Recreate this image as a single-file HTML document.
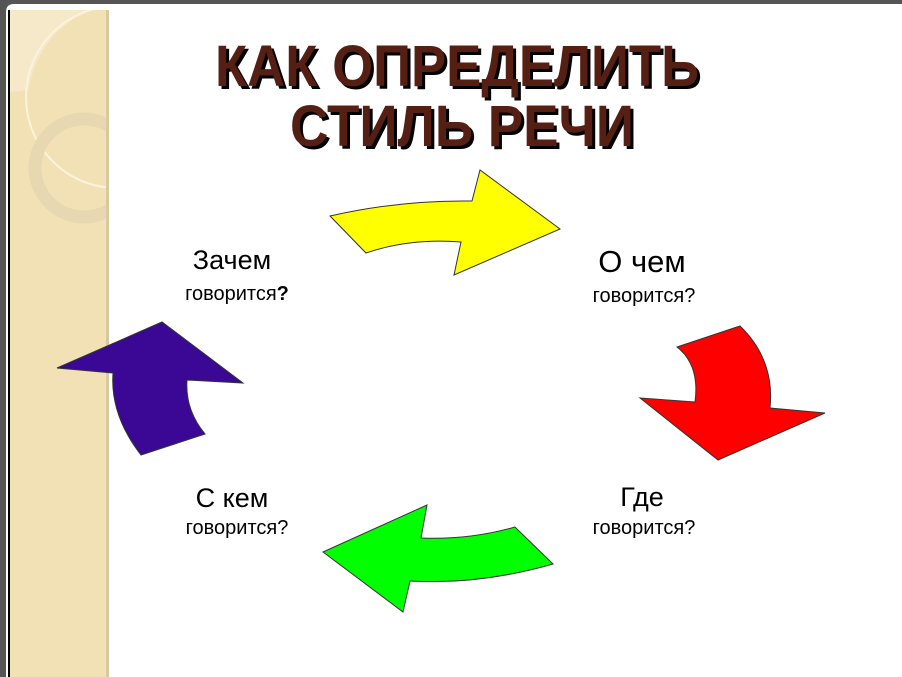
<!DOCTYPE html>
<html><head><meta charset="utf-8"><style>
html,body{margin:0;padding:0;background:#fff;}
body{width:902px;height:677px;position:relative;overflow:hidden;font-family:"Liberation Sans",sans-serif;}
.t{position:absolute;color:#000;text-align:center;}
</style></head><body>
<svg width="902" height="677" style="position:absolute;left:0;top:0">
<defs><clipPath id="c"><rect x="10" y="10" width="96" height="667"/></clipPath></defs>
<rect x="0" y="0" width="902" height="677" fill="#fff"/>
<path d="M0 0 H902 V4 H14 Q6 4 6 12 V677 H0Z" fill="#555"/>
<rect x="8" y="10" width="2" height="667" fill="#000"/>
<rect x="10" y="10" width="98" height="667" fill="#f3e1b6"/>
<rect x="106" y="10" width="3" height="667" fill="#d9c9a2"/>
<g clip-path="url(#c)">
<path d="M10 10 H92 Q40 30 28 90 L10 92Z" fill="#f6e9c9"/>
<circle cx="117" cy="97" r="91" fill="none" stroke="#fbf3dc" stroke-width="2"/>
<circle cx="84" cy="168" r="49" fill="none" stroke="#e8d8b2" stroke-width="13"/>
</g>
<g stroke="#333" stroke-width="1">
<path d="M330 216 Q400 200 472 201 L480 170 L560 229 L454 275 L461 242 Q410 238 366 253 Z" fill="#ffff00"/>
<path d="M677 347 L740 326 Q775 360 770 408 L825 413 L718 460 L640 398 L695 402 Q700 365 677 347Z" fill="#ff0000"/>
<path d="M323 552 L427 505 L421 538 Q470 540 515 527 L553 564 Q480 585 410 581 L403 612Z" fill="#00ff00"/>
<path d="M57 368 L162 322 L243 383 L187 380 Q185 410 205 434 L141 455 Q110 415 113 373Z" fill="#3a0894"/>
</g>
<g font-family="Liberation Sans,sans-serif" font-weight="bold" font-size="58">
<text x="218" y="89" fill="#000" textLength="484" lengthAdjust="spacingAndGlyphs">КАК ОПРЕДЕЛИТЬ</text>
<text x="293" y="149" fill="#000" textLength="344" lengthAdjust="spacingAndGlyphs">СТИЛЬ РЕЧИ</text>
<text x="215" y="86" fill="#561f14" textLength="484" lengthAdjust="spacingAndGlyphs">КАК ОПРЕДЕЛИТЬ</text>
<text x="290" y="146" fill="#561f14" textLength="344" lengthAdjust="spacingAndGlyphs">СТИЛЬ РЕЧИ</text>
</g>
</svg>
<div class="t" style="left:162px;top:245px;width:140px;font-size:27px;">Зачем</div>
<div class="t" style="left:167px;top:283px;width:140px;font-size:20px;">говорится<b>?</b></div>
<div class="t" style="left:572px;top:244px;width:140px;font-size:31px;">О чем</div>
<div class="t" style="left:574px;top:285px;width:140px;font-size:20px;">говорится?</div>
<div class="t" style="left:162px;top:483px;width:140px;font-size:27px;">С кем</div>
<div class="t" style="left:167px;top:517px;width:140px;font-size:20px;">говорится?</div>
<div class="t" style="left:572px;top:482px;width:140px;font-size:27px;">Где</div>
<div class="t" style="left:574px;top:517px;width:140px;font-size:20px;">говорится?</div>
</body></html>
